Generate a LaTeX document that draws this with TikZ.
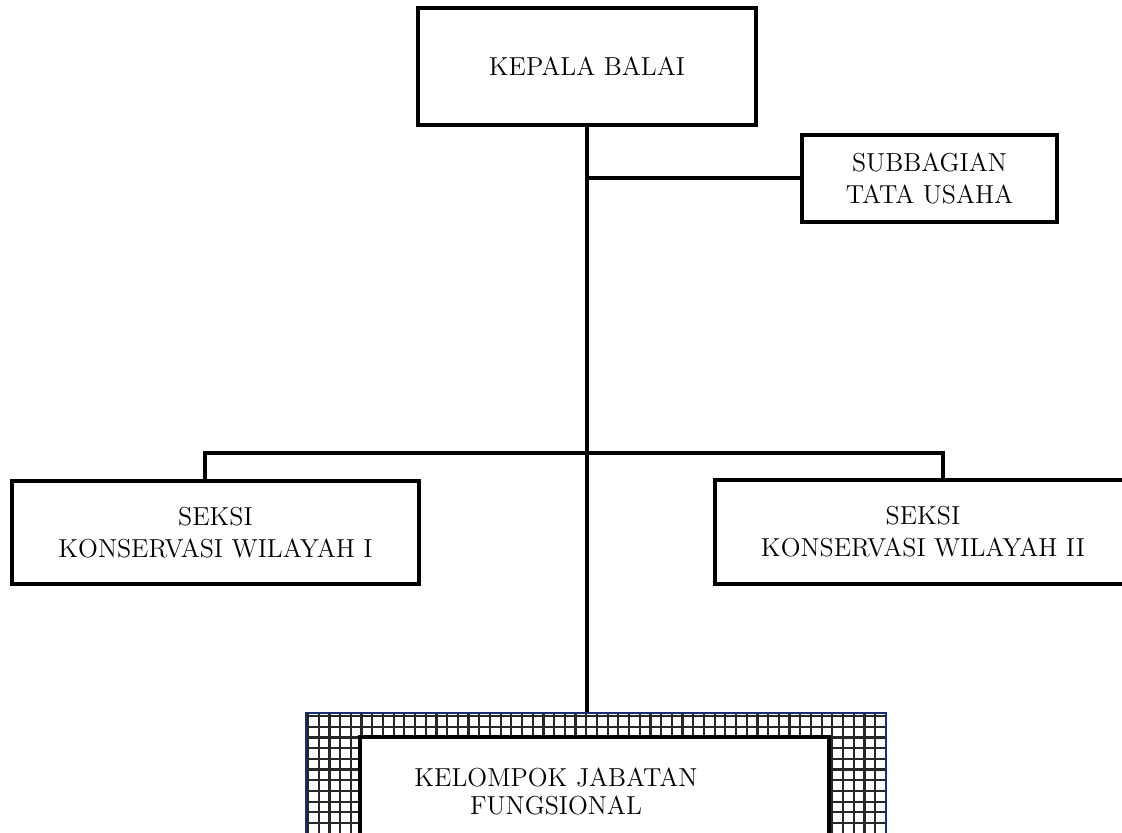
\documentclass[tikz,border=0pt]{standalone}
\usetikzlibrary{positioning}
\definecolor{framenavy}{RGB}{22,46,112}
\tikzset{
    line cap=round,line join=round,
    unitbox/.style={draw,line width=2pt,fill=white,align=center,inner sep=0pt,
        font=\fontsize{13}{16}\selectfont},
    link/.style={line width=2pt},
    gridline/.style={line width=1.1pt,black!85},
    gridframe/.style={draw=framenavy,line width=1pt,fill=white,inner sep=0pt,
        path picture={
            \foreach \k in {0,...,55}{
                \draw[gridline] ([xshift=1pt+\k*5.35pt]path picture bounding box.north west)
                    -- ([xshift=1pt+\k*5.35pt]path picture bounding box.south west);
                \draw[gridline] ([yshift=-1.5pt-\k*5.35pt]path picture bounding box.north west)
                    -- ([yshift=-1.5pt-\k*5.35pt]path picture bounding box.north east);
            }
        }},
}

\begin{document}
\begin{tikzpicture}[x=0.5pt,y=-0.5pt]
    \useasboundingbox (0,0) rectangle (1122,833);
    \clip (0,0) rectangle (1122,833);

    % units
    \node[unitbox,minimum width=169pt,minimum height=58.5pt] (kepala) at (587,66.5) {KEPALA BALAI};
    \node[unitbox,minimum width=127.5pt,minimum height=43.5pt] (subbag) at (929.5,178.5) {SUBBAGIAN\\TATA USAHA};
    \node[unitbox,minimum width=203.5pt,minimum height=51.5pt] (seksi1) at (215.5,532.5) {SEKSI\\KONSERVASI WILAYAH I};
    \node[unitbox,minimum width=208pt,minimum height=52pt] (seksi2) at (923,532) {SEKSI\\KONSERVASI WILAYAH II};

    % functional group
    \node[gridframe,minimum width=290pt,minimum height=80pt] (fungframe) at (596,793) {};
    \node[unitbox,minimum width=234.5pt,minimum height=70pt] (fungbox) at (594.5,807) {};
    \node[align=center,font=\fontsize{13}{14}\selectfont] (fungtext) at (556,791) {KELOMPOK JABATAN\\FUNGSIONAL};

    % lines
    \coordinate (lbend) at (205,453);
    \coordinate (rbend) at (943,453);
    \draw[link] (kepala.south) -- (kepala.south |- fungframe.north);
    \draw[link] (kepala.south |- subbag.west) -- (subbag.west);
    \draw[link] (lbend |- seksi1.north) -- (lbend) -- (rbend) -- (rbend |- seksi2.north);
\end{tikzpicture}
\end{document}
